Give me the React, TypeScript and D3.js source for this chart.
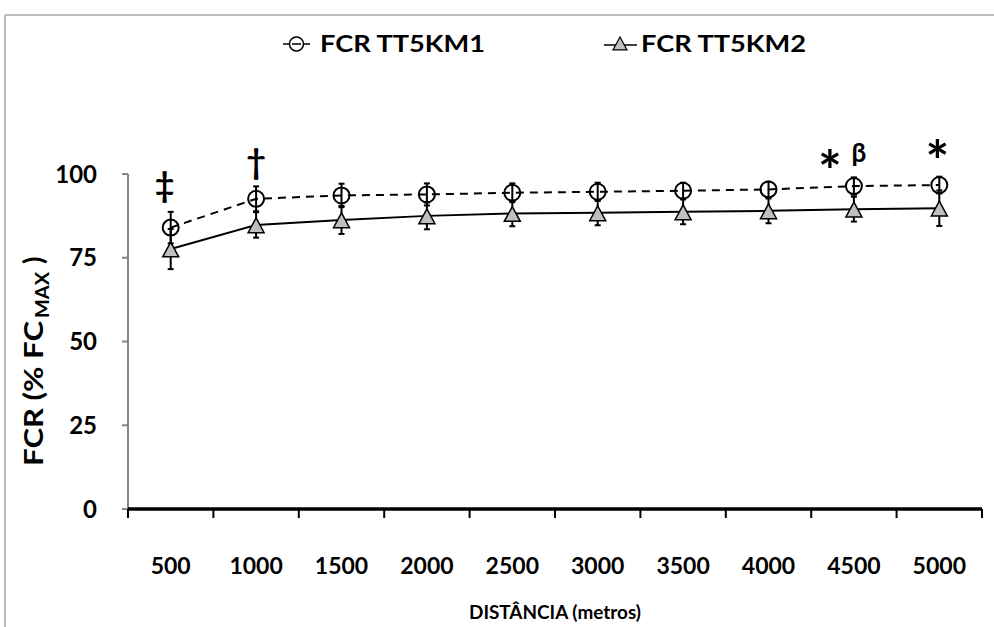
import React from "react";
import * as d3 from "d3";

const categories = ["500", "1000", "1500", "2000", "2500", "3000", "3500", "4000", "4500", "5000"];
const tt1Values = [84.0, 92.6, 93.6, 93.9, 94.4, 94.7, 95.0, 95.4, 96.4, 96.7];
const tt1Err = [4.7, 3.7, 3.5, 3.3, 2.8, 2.7, 2.4, 2.3, 2.6, 2.5];
const tt2Values = [77.6, 84.8, 86.3, 87.5, 88.2, 88.4, 88.7, 89.0, 89.5, 89.8];
const tt2Err = [6.0, 3.8, 4.2, 4.0, 3.8, 3.7, 3.7, 3.7, 3.7, 5.3];
const yTicks = [0, 25, 50, 75, 100];
const annotations = [
  { cat: "500", text: "‡", value: 93, size: 34, dx: -6 },
  { cat: "1000", text: "†", value: 100, size: 34, dx: 0 },
  { cat: "4500", text: "*", value: 95, size: 56, dx: -24 },
  { cat: "4500", text: "β", value: 103.5, size: 26, dx: 5 },
  { cat: "5000", text: "*", value: 98, size: 56, dx: -2 },
];

const W = 994;
const H = 627;
const FONT = "Lato, 'Open Sans', sans-serif";

export default function App() {
  const x = d3.scaleBand<string>().domain(categories).range([128, 982]);
  const y = d3.scaleLinear().domain([0, 100]).range([509, 174]);
  const cx = (c: string) => (x(c) as number) + x.bandwidth() / 2;

  const line = d3
    .line<number>()
    .x((_, i) => cx(categories[i]))
    .y((v) => y(v));

  const tri = (px: number, py: number, s = 8) =>
    `M${px},${py - s} L${px + s},${py + s * 0.85} L${px - s},${py + s * 0.85} Z`;

  const errBar = (c: string, v: number, e: number, key: string) => {
    const px = cx(c);
    return (
      <g key={key} stroke="#000" strokeWidth={2}>
        <line x1={px} x2={px} y1={y(v + e)} y2={y(v - e)} />
        <line x1={px - 3} x2={px + 3} y1={y(v + e)} y2={y(v + e)} />
        <line x1={px - 3} x2={px + 3} y1={y(v - e)} y2={y(v - e)} />
      </g>
    );
  };

  return (
    <svg width={W} height={H} style={{ position: "absolute", left: 0, top: 0, background: "#fff" }}>
      <rect x={0} y={0} width={W} height={H} fill="#fff" />
      {/* outer border */}
      <line x1={5} x2={W} y1={15} y2={15} stroke="#a6a6a6" strokeWidth={1.5} />
      <line x1={5} x2={5} y1={15} y2={H} stroke="#a6a6a6" strokeWidth={1.5} />

      {/* legend */}
      <g fontFamily={FONT} fontWeight={700} fontSize={22}>
        <line x1={283} x2={289} y1={44} y2={44} stroke="#000" strokeWidth={1.5} />
        <line x1={304} x2={310} y1={44} y2={44} stroke="#000" strokeWidth={1.5} />
        <circle cx={296.5} cy={44} r={7} fill="none" stroke="#000" strokeWidth={1.5} />
        <line x1={292} x2={301} y1={44} y2={44} stroke="#000" strokeWidth={1.5} />
        <text x={320} y={52} textLength={165} lengthAdjust="spacingAndGlyphs">FCR TT5KM1</text>
        <line x1={604} x2={637} y1={45} y2={45} stroke="#000" strokeWidth={1.5} />
        <path d={tri(620, 44, 7)} fill="#bfbfbf" stroke="#000" strokeWidth={1.2} />
        <text x={641} y={52} textLength={165} lengthAdjust="spacingAndGlyphs">FCR TT5KM2</text>
      </g>

      {/* y axis */}
      <line x1={128} x2={128} y1={y(100)} y2={y(0)} stroke="#868686" strokeWidth={2} />
      {yTicks.map((t) => (
        <g key={t}>
          <line x1={122} x2={128} y1={y(t)} y2={y(t)} stroke="#868686" strokeWidth={2} />
          <text
            x={97}
            y={y(t)}
            dy="0.36em"
            textAnchor="end"
            fontFamily={FONT}
            fontWeight={700}
            fontSize={24}
          >
            {t}
          </text>
        </g>
      ))}

      {/* x axis */}
      {d3.range(categories.length + 1).map((i) => {
        const px = 128 + i * x.bandwidth();
        return <line key={i} x1={px} x2={px} y1={509} y2={518} stroke="#000" strokeWidth={2} />;
      })}
      <line x1={128} x2={982} y1={509} y2={509} stroke="#000" strokeWidth={3.5} />
      {categories.map((c) => (
        <text
          key={c}
          x={cx(c)}
          y={574}
          textAnchor="middle"
          fontFamily={FONT}
          fontWeight={700}
          fontSize={23}
        >
          {c}
        </text>
      ))}

      {/* axis titles */}
      <text
        x={555}
        y={619}
        textAnchor="middle"
        fontFamily={FONT}
        fontWeight={700}
        fontSize={19}
        textLength={172}
        lengthAdjust="spacingAndGlyphs"
      >
        DISTÂNCIA (metros)
      </text>
      <g transform="translate(43,358) rotate(-90)">
        <text
          x={-108}
          y={0}
          fontFamily={FONT}
          fontWeight={700}
          fontSize={27}
          textLength={145}
          lengthAdjust="spacingAndGlyphs"
        >
          FCR (% FC
        </text>
        <text x={40} y={6} fontFamily={FONT} fontWeight={700} fontSize={18} textLength={46} lengthAdjust="spacingAndGlyphs">
          MAX
        </text>
        <text x={94} y={0} fontFamily={FONT} fontWeight={700} fontSize={27}>
          )
        </text>
      </g>

      {/* error bars */}
      {categories.map((c, i) => errBar(c, tt2Values[i], tt2Err[i], "e2" + i))}
      {categories.map((c, i) => errBar(c, tt1Values[i], tt1Err[i], "e1" + i))}

      {/* lines */}
      <path d={line(tt1Values) || ""} fill="none" stroke="#000" strokeWidth={2} strokeDasharray="8,6" />
      <path d={line(tt2Values) || ""} fill="none" stroke="#000" strokeWidth={2} />

      {/* markers */}
      {categories.map((c, i) => (
        <circle key={"c" + i} cx={cx(c)} cy={y(tt1Values[i])} r={8} fill="none" stroke="#000" strokeWidth={2} />
      ))}
      {categories.map((c, i) => (
        <path key={"t" + i} d={tri(cx(c), y(tt2Values[i]) + 1, 8)} fill="#bfbfbf" stroke="#000" strokeWidth={1.5} />
      ))}

      {/* annotations */}
      {annotations.map((a, i) => (
        <text
          key={"a" + i}
          x={cx(a.cat) + a.dx}
          y={y(a.value)}
          textAnchor="middle"
          fontFamily={FONT}
          fontWeight={700}
          fontSize={a.size}
        >
          {a.text}
        </text>
      ))}
    </svg>
  );
}
